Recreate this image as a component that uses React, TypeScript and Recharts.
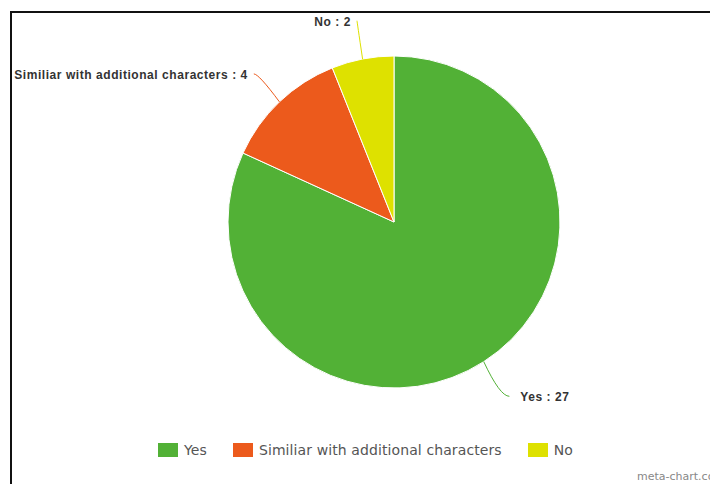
import { PieChart, Pie, Cell, Legend } from 'recharts';

const answers = ['Yes', 'Similiar with additional characters', 'No'];
const counts = [27, 4, 2];
const colors = ['#52b136', '#ec5a1c', '#dee100'];

const pieData = answers.map((name, i) => ({ name, value: counts[i], color: colors[i] }));

const RAD = Math.PI / 180;

function SliceLabel(props: any) {
  const { cx, cy, midAngle, outerRadius, name, value, index } = props;
  const color = colors[index];
  const cos = Math.cos(-midAngle * RAD);
  const sin = Math.sin(-midAngle * RAD);
  const p0x = cx + outerRadius * cos;
  const p0y = cy + outerRadius * sin;
  const rl = outerRadius + 40;
  const right = cos >= 0;
  const ex = cx + rl * cos + (right ? 6 : 0);
  const ey = cy + rl * sin + 1;
  const kx = cx + (outerRadius + 30) * cos;
  const dir = right ? -1 : 1;
  const sx = ex + dir * 2;
  return (
    <g>
      <path
        d={`M${sx},${ey} Q${kx},${ey} ${p0x},${p0y}`}
        stroke={color}
        strokeWidth={1}
        fill="none"
      />
      <text
        x={right ? ex + 9 : ex - 4}
        y={ey}
        dy={5}
        textAnchor={right ? 'start' : 'end'}
        fill="#333"
        fontFamily="'Liberation Sans', Arial, sans-serif"
        fontWeight="bold"
        fontSize={12}
        letterSpacing={0.55}
      >
        {`${name} : ${value}`}
      </text>
    </g>
  );
}

function LegendContent() {
  return (
    <div style={{ display: 'flex', alignItems: 'center', fontFamily: "'DejaVu Sans', Verdana, sans-serif", fontSize: 14, letterSpacing: 0.1, color: '#555' }}>
      {pieData.map((d) => (
        <div key={d.name} style={{ display: 'flex', alignItems: 'center', marginRight: 26 }}>
          <div style={{ width: 20, height: 14, background: d.color, marginRight: 6 }} />
          <span>{d.name}</span>
        </div>
      ))}
    </div>
  );
}

export default function App() {
  return (
    <div style={{ position: 'absolute', left: 0, top: 0, width: 710, height: 484, background: '#fff', overflow: 'hidden' }}>
      <div style={{ position: 'absolute', left: 10, top: 11, width: 700, height: 473, borderTop: '2px solid #111', borderLeft: '2px solid #111' }} />
      <PieChart
        width={710}
        height={484}
        margin={{ top: 0, right: 0, bottom: 0, left: 0 }}
        style={{ position: 'absolute', left: 0, top: 0 }}
      >
        <Pie
          data={pieData}
          dataKey="value"
          nameKey="name"
          cx={394}
          cy={222}
          outerRadius={166}
          startAngle={90}
          endAngle={-270}
          stroke="#ffffff"
          strokeWidth={1}
          label={SliceLabel}
          labelLine={false}
          isAnimationActive={false}
        >
          {pieData.map((d) => (
            <Cell key={d.name} fill={d.color} />
          ))}
        </Pie>
        <Legend
          content={LegendContent}
          wrapperStyle={{ position: 'absolute', left: 158, top: 442, width: 500 }}
        />
      </PieChart>
      <div style={{ position: 'absolute', left: 637, top: 470, fontFamily: "'DejaVu Sans', Verdana, sans-serif", fontSize: 11, color: '#888', whiteSpace: 'nowrap' }}>
        meta-chart.com
      </div>
    </div>
  );
}
